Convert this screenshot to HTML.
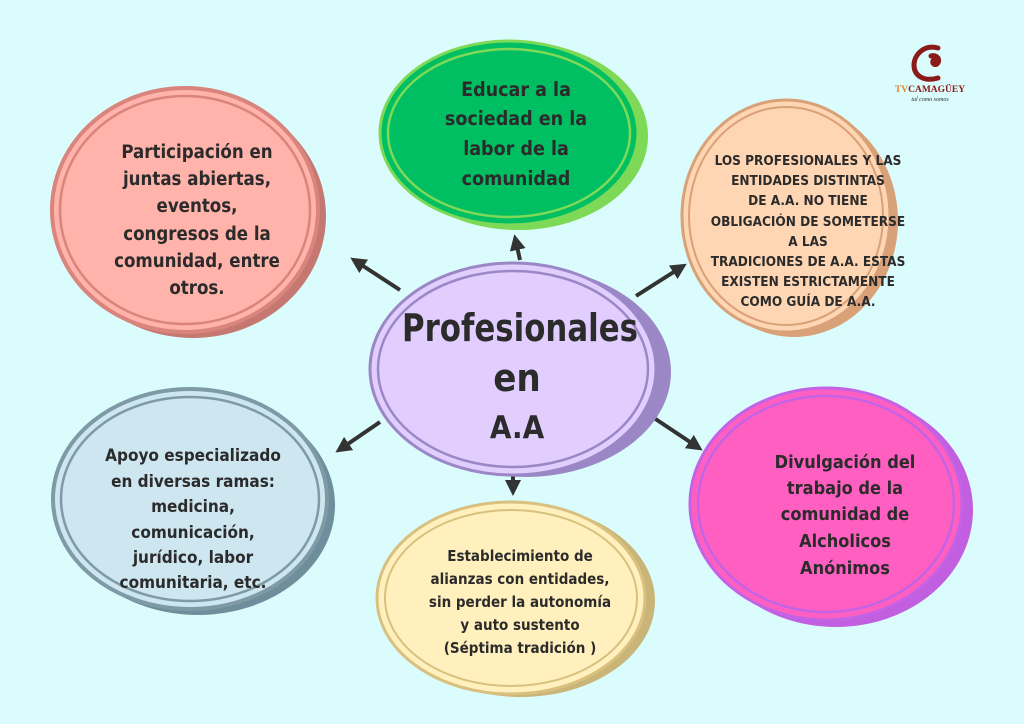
<!DOCTYPE html>
<html><head><meta charset="utf-8"><style>
html,body{margin:0;padding:0;background:#dbfcfc;}
svg{display:block}
text{font-family:"DejaVu Sans Condensed","Liberation Sans",sans-serif;font-weight:bold;fill:#2b2b2b;text-anchor:middle}
</style></head><body>
<svg width="1024" height="724" viewBox="0 0 1024 724" xmlns="http://www.w3.org/2000/svg">
<rect width="1024" height="724" fill="#dbfcfc"/>
<defs>
<marker id="ah" markerWidth="4" markerHeight="4" refX="2" refY="2" orient="auto" markerUnits="strokeWidth">
<path d="M0,0 L4,2 L0,4 Z" fill="#333"/></marker>
</defs>
<g stroke="#333" stroke-width="4" marker-end="url(#ah)">
<line x1="400" y1="290" x2="357" y2="262"/>
<line x1="520" y1="260" x2="516" y2="242"/>
<line x1="636" y1="296" x2="680" y2="268"/>
<line x1="380" y1="422" x2="342" y2="448"/>
<line x1="513" y1="470" x2="513" y2="488"/>
<line x1="654" y1="418" x2="696" y2="446"/>
</g>
<ellipse cx="193" cy="216" rx="133" ry="122" fill="#c57872"/>
<ellipse cx="185" cy="210" rx="133" ry="122" fill="#ffb3ab" stroke="#d9847c" stroke-width="4"/>
<ellipse cx="185" cy="210" rx="125" ry="114" fill="none" stroke="#d9847c" stroke-width="2.5"/>
<g font-size="18.5"><text x="197" y="158">Participación en</text><text x="197" y="185">juntas abiertas,</text><text x="197" y="212">eventos,</text><text x="197" y="240">congresos de la</text><text x="197" y="267">comunidad, entre</text><text x="197" y="294">otros.</text></g>
<ellipse cx="518" cy="136" rx="130" ry="94" fill="#7ed957"/>
<ellipse cx="509" cy="133" rx="129" ry="92" fill="#00bf63" stroke="#7ed957" stroke-width="3"/>
<ellipse cx="509" cy="133" rx="121" ry="84" fill="none" stroke="#7ed957" stroke-width="2.5"/>
<g font-size="19.5"><text x="516" y="96">Educar a la</text><text x="516" y="125">sociedad en la</text><text x="516" y="155">labor de la</text><text x="516" y="185">comunidad</text></g>
<ellipse cx="794" cy="221" rx="104" ry="116" fill="#d9a178"/>
<ellipse cx="786" cy="216" rx="104" ry="116" fill="#ffd6b3" stroke="#d9a178" stroke-width="3"/>
<ellipse cx="786" cy="216" rx="97" ry="109" fill="none" stroke="#d9a178" stroke-width="2"/>
<g font-size="13.5"><text x="808" y="165">LOS PROFESIONALES Y LAS</text><text x="808" y="185">ENTIDADES DISTINTAS</text><text x="808" y="205">DE A.A. NO TIENE</text><text x="808" y="226">OBLIGACIÓN DE SOMETERSE</text><text x="808" y="246">A LAS</text><text x="808" y="266">TRADICIONES DE A.A. ESTAS</text><text x="808" y="286">EXISTEN ESTRICTAMENTE</text><text x="808" y="306">COMO GUÍA DE A.A.</text></g>
<ellipse cx="525" cy="372" rx="146" ry="105" fill="#9b87c6"/>
<ellipse cx="513" cy="369" rx="143" ry="106" fill="#e1ceff" stroke="#9b87c6" stroke-width="3"/>
<ellipse cx="513" cy="369" rx="135" ry="98" fill="none" stroke="#9b87c6" stroke-width="2.5"/>
<text x="520" y="341" font-size="38" textLength="236" lengthAdjust="spacingAndGlyphs">Profesionales</text>
<text x="517" y="391" font-size="38">en</text>
<text x="517" y="438" font-size="31">A.A</text>
<ellipse cx="198" cy="505" rx="137" ry="110" fill="#6f8e9b"/>
<ellipse cx="190" cy="499" rx="137" ry="110" fill="#cde6f0" stroke="#7d9aa6" stroke-width="4"/>
<ellipse cx="190" cy="499" rx="129" ry="102" fill="none" stroke="#7d9aa6" stroke-width="2.5"/>
<g font-size="17"><text x="193" y="461">Apoyo especializado</text><text x="193" y="487">en diversas ramas:</text><text x="193" y="512">medicina,</text><text x="193" y="538">comunicación,</text><text x="193" y="563">jurídico, labor</text><text x="193" y="588">comunitaria, etc.</text></g>
<ellipse cx="521" cy="601" rx="134" ry="96" fill="#c9b578"/>
<ellipse cx="511" cy="598" rx="134" ry="96" fill="#fff0bd" stroke="#d9c07f" stroke-width="3"/>
<ellipse cx="511" cy="598" rx="126" ry="88" fill="none" stroke="#d9c07f" stroke-width="2"/>
<g font-size="15"><text x="520" y="561">Establecimiento de</text><text x="520" y="584">alianzas con entidades,</text><text x="520" y="607">sin perder la autonomía</text><text x="520" y="630">y auto sustento</text><text x="520" y="653">(Séptima tradición )</text></g>
<ellipse cx="836" cy="510" rx="137" ry="117" fill="#c25fe0"/>
<ellipse cx="826" cy="504" rx="136" ry="116" fill="#ff5fc1" stroke="#c462e6" stroke-width="3"/>
<ellipse cx="826" cy="504" rx="128" ry="108" fill="none" stroke="#c462e6" stroke-width="2.5"/>
<g font-size="18"><text x="845" y="468">Divulgación del</text><text x="845" y="494">trabajo de la</text><text x="845" y="520">comunidad de</text><text x="845" y="547">Alcholicos</text><text x="845" y="574">Anónimos</text></g>
<path d="M938,48 C924,44 914,55 914,65 C914,76 924,82 938,78 M931,56 C937,54 941,60 937,64 C934,66 931,62 934,60" stroke="#8b1a1a" stroke-width="5" fill="none" stroke-linecap="round"/>
<text x="930" y="92" font-size="9.5" style="font-family:'Liberation Serif',serif"><tspan fill="#e0892f">TV</tspan><tspan fill="#8b1a1a">CAMAGÜEY</tspan></text>
<text x="930" y="101" font-size="6" font-style="italic" fill="#8b1a1a" style="font-family:'Liberation Serif',serif;font-weight:normal">tal como somos</text>
</svg>
</body></html>
